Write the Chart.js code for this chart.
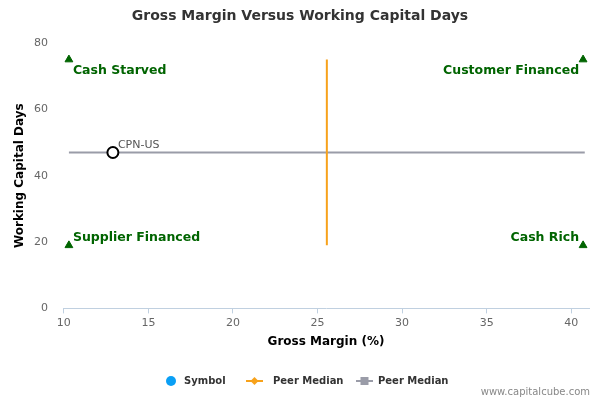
<!DOCTYPE html>
<html>
<head>
<meta charset="utf-8">
<script src="https://cdn.jsdelivr.net/npm/chart.js@4"></script>
<style>
  html, body { margin: 0; padding: 0; background: #fff; }
  #wrap { width: 600px; height: 400px; }
</style>
</head>
<body>
<div id="wrap"><canvas id="graph" width="600" height="400"></canvas></div>
<script>
// values
const symbolLabel = "CPN-US";
const symbolPoint = [{ x: 12.9, y: 47 }];
const peerMedianX = [{ x: 25.55, y: 19 }, { x: 25.55, y: 75 }];
const peerMedianY = [{ x: 10.3, y: 47 }, { x: 40.8, y: 47 }];
const quadrantPoints = [{ x: 10.3, y: 75 }, { x: 40.7, y: 75 }, { x: 10.3, y: 19 }, { x: 40.7, y: 19 }];
const quadrantNames = ["Cash Starved", "Customer Financed", "Supplier Financed", "Cash Rich"];
const xTicks = [10, 15, 20, 25, 30, 35, 40];
const yTicks = [0, 20, 40, 60, 80];

const green = "#006400";
const font = "DejaVu Sans";

const extras = {
	id: 'extras',
	afterDraw(chart) {
		const c = chart.ctx;
		const xs = chart.scales.x, ys = chart.scales.y;
		c.save();

		// title
		c.fillStyle = "#333";
		c.font = "bold 14px " + font;
		c.textAlign = "center";
		c.textBaseline = "middle";
		c.fillText("Gross Margin Versus Working Capital Days", 300, 16);

		// quadrant labels
		c.fillStyle = green;
		c.font = "bold 12.5px " + font;
		c.textBaseline = "middle";
		quadrantPoints.forEach((p, i) => {
			const px = xs.getPixelForValue(p.x);
			const py = ys.getPixelForValue(p.y);
			const left = i % 2 === 0;
			c.textAlign = left ? "left" : "right";
			const ty = i < 2 ? py + 11 : py - 8;
			c.fillText(quadrantNames[i], left ? px + 4 : px - 4, ty);
		});

		// symbol label
		const sp = symbolPoint[0];
		c.fillStyle = "#555";
		c.font = "11px " + font;
		c.textAlign = "left";
		c.textBaseline = "alphabetic";
		c.fillText(symbolLabel, xs.getPixelForValue(sp.x) + 5, ys.getPixelForValue(sp.y) - 4);

		// legend
		const ly = 381;
		c.font = "bold 10px " + font;
		c.textBaseline = "middle";
		c.fillStyle = "#0a9ff5";
		c.beginPath(); c.arc(171, ly, 5, 0, Math.PI * 2); c.fill();
		c.fillStyle = "#333";
		c.fillText("Symbol", 184, ly);

		c.strokeStyle = "#f7a21b"; c.lineWidth = 2;
		c.beginPath(); c.moveTo(246, ly); c.lineTo(263, ly); c.stroke();
		c.fillStyle = "#f7a21b";
		c.beginPath(); c.moveTo(254.5, ly - 4); c.lineTo(258.5, ly); c.lineTo(254.5, ly + 4); c.lineTo(250.5, ly); c.closePath(); c.fill();
		c.fillStyle = "#333";
		c.fillText("Peer Median", 273, ly);

		c.strokeStyle = "#9a9ca8";
		c.beginPath(); c.moveTo(356, ly); c.lineTo(373, ly); c.stroke();
		c.fillStyle = "#9a9ca8";
		c.fillRect(360.5, ly - 4, 8, 8);
		c.fillStyle = "#333";
		c.fillText("Peer Median", 378, ly);

		// credit
		c.fillStyle = "#888";
		c.font = "10px " + font;
		c.textAlign = "right";
		c.fillText("www.capitalcube.com", 590, 392);
		c.restore();
	}
};

const ctx = document.getElementById('graph').getContext('2d');

const myChart = new Chart(ctx, {
	type: 'scatter',
	data: {
		datasets: [{
			label: 'Symbol',
			data: symbolPoint,
			pointStyle: 'circle',
			pointRadius: 5.5,
			pointBackgroundColor: '#fff',
			pointBorderColor: '#000',
			pointBorderWidth: 2,
			order: 0
		}, {
			label: 'Peer Median',
			data: peerMedianX,
			showLine: true,
			borderColor: '#f7a21b',
			borderWidth: 2,
			pointRadius: 0,
			order: 2
		}, {
			label: 'Peer Median',
			data: peerMedianY,
			showLine: true,
			borderColor: '#9a9ca8',
			borderWidth: 2,
			pointRadius: 0,
			order: 3
		}, {
			label: 'Quadrants',
			data: quadrantPoints,
			pointStyle: 'triangle',
			pointRadius: 4.5,
			pointBackgroundColor: green,
			pointBorderColor: green,
			order: 1
		}]
	},
	options: {
		responsive: false,
		animation: false,
		layout: {
			padding: { top: 43, right: 11, bottom: 47, left: 5 }
		},
		plugins: {
			legend: { display: false },
			tooltip: { enabled: false },
			title: { display: false }
		},
		scales: {
			x: {
				type: 'linear',
				min: 9.95,
				max: 41.05,
				afterBuildTicks: (axis) => { axis.ticks = xTicks.map(v => ({ value: v })); },
				title: {
					display: true,
					text: "Gross Margin (%)",
					color: '#000',
					font: { family: font, size: 12, weight: 'bold' },
					padding: { top: 2 }
				},
				ticks: {
					color: '#666',
					font: { family: font, size: 11 }
				},
				grid: {
					drawOnChartArea: false,
					drawTicks: true,
					tickLength: 5,
					color: '#c0d0e0'
				},
				border: { color: '#c0d0e0' }
			},
			y: {
				type: 'linear',
				min: 0,
				max: 80,
				afterBuildTicks: (axis) => { axis.ticks = yTicks.map(v => ({ value: v })); },
				afterFit: (axis) => { axis.width = 58; },
				title: {
					display: true,
					text: "Working Capital Days",
					color: '#000',
					font: { family: font, size: 12, weight: 'bold' },
					padding: { top: 8, bottom: 0 }
				},
				ticks: {
					color: '#666',
					font: { family: font, size: 11 },
					padding: 7
				},
				grid: { display: false },
				border: { display: false }
			}
		}
	},
	plugins: [extras]
});
</script>
</body>
</html>
